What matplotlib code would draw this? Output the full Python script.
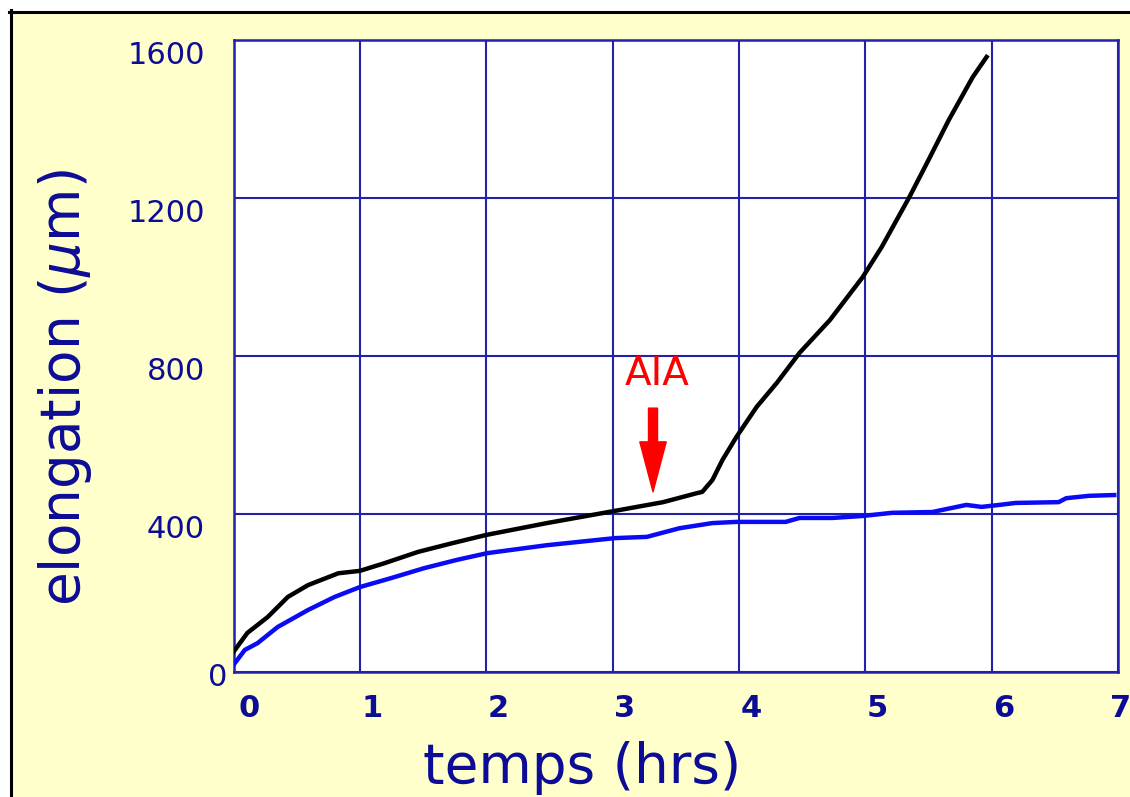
import matplotlib
matplotlib.use("Agg")
import matplotlib.pyplot as plt
import matplotlib.transforms as mtransforms
from matplotlib.patches import Rectangle
from matplotlib.lines import Line2D

# ---- data ----
black_t = [0, 0.11, 0.27, 0.43, 0.59, 0.83, 1.0, 1.2, 1.46, 1.73, 2.0, 2.48, 3.02,
           3.4, 3.67, 3.71, 3.79, 3.87, 3.98, 4.14, 4.3, 4.48, 4.72, 4.98, 5.13,
           5.35, 5.5, 5.66, 5.85, 5.96]
black_y = [51, 99, 139, 190, 220, 250, 256, 276, 304, 326, 347, 377, 408,
           430, 453, 456, 486, 537, 595, 671, 732, 808, 891, 1000, 1076,
           1203, 1296, 1397, 1506, 1557]

blue_t = [0, 0.09, 0.19, 0.35, 0.59, 0.8, 1.0, 1.25, 1.51, 1.77, 2.01, 2.48, 3.02,
          3.27, 3.53, 3.79, 3.98, 4.37, 4.48, 4.74, 4.98, 5.21, 5.53, 5.8, 5.92,
          6.06, 6.19, 6.53, 6.59, 6.77, 6.97]
blue_y = [18, 56, 73, 114, 157, 190, 215, 238, 263, 284, 301, 321, 339,
          342, 364, 377, 380, 380, 390, 390, 395, 403, 405, 423, 418,
          423, 428, 430, 440, 446, 448]

x_ticks = [0, 1, 2, 3, 4, 5, 6, 7]
x_ticklabels = ["0", "1", "2", "3", "4", "5", "6", "7"]
y_ticks = [0, 400, 800, 1200, 1600]
y_ticklabels = ["0", "400", "800", "1200", "1600"]

arrow_x = 3.32
arrow_top, arrow_tip = 668, 456
aia_label = "AIA"
aia_pos = (3.35, 727)

xlabel = "temps (hrs)"
ylabel = r"elongation ($\mu$m)"

# ---- style ----
NAVY = "#0c0c96"
GRID = "#2222a8"
YELLOW = "#ffffcc"

W, H = 1130, 797
fig = plt.figure(figsize=(W / 100, H / 100), dpi=100, facecolor="white")

# yellow panel and black frame lines
fig.patches.append(Rectangle((11 / W, 0), 1, (H - 12) / H, transform=fig.transFigure,
                             facecolor=YELLOW, edgecolor="none", zorder=-10))
fig.lines.append(Line2D([9 / W, 1], [1 - 11.5 / H, 1 - 11.5 / H], transform=fig.transFigure,
                        color="black", lw=2.2))
fig.lines.append(Line2D([10.5 / W, 10.5 / W], [0, 1 - 10 / H], transform=fig.transFigure,
                        color="black", lw=2.2))

left, right, top, bottom = 233.5, 1118, 40, 672
ax = fig.add_axes([left / W, 1 - bottom / H, (right - left) / W, (bottom - top) / H])
ax.set_facecolor("white")

ax.plot(blue_t, blue_y, color="#0a0af5", lw=3.2, zorder=3)
ax.plot(black_t, black_y, color="black", lw=3.2, zorder=4)

ax.set_xlim(0, 7)
ax.set_ylim(0, 1600)
ax.grid(True, color=GRID, lw=1.5)
ax.set_axisbelow(True)
for s in ax.spines.values():
    s.set_color(GRID)
    s.set_linewidth(1.8)

ax.set_xticks(x_ticks)
ax.set_xticklabels(x_ticklabels, fontsize=22, fontweight="bold", color=NAVY)
ax.set_yticks(y_ticks)
ax.set_yticklabels(y_ticklabels, fontsize=22, color=NAVY)
ax.tick_params(axis="both", length=0)
ax.tick_params(axis="x", pad=16)
ax.tick_params(axis="y", pad=20.5)

n_x = len(x_ticks)
for i, lbl in enumerate(ax.get_xticklabels()):
    if i == 0:
        dx = 16
    elif i == n_x - 1:
        dx = 3
    else:
        dx = 12
    lbl.set_transform(lbl.get_transform() + mtransforms.ScaledTranslation(dx / 100, 0, fig.dpi_scale_trans))
for i, lbl in enumerate(ax.get_yticklabels()):
    if i == 0:
        off = mtransforms.ScaledTranslation(22 / 100, -2 / 100, fig.dpi_scale_trans)
    else:
        off = mtransforms.ScaledTranslation(0, -12 / 100, fig.dpi_scale_trans)
    lbl.set_transform(lbl.get_transform() + off)

ax.set_xlabel(xlabel, fontsize=39.5, color=NAVY)
ax.xaxis.set_label_coords((582 - left) / (right - left), -(741 - bottom) / (bottom - top))
ax.set_ylabel(ylabel, fontsize=39.5, color=NAVY)
ax.yaxis.set_label_coords((94 - left) / (right - left), (bottom - 388) / (bottom - top))

ax.annotate("", xy=(arrow_x, arrow_tip), xytext=(arrow_x, arrow_top),
            arrowprops=dict(facecolor="#ff0000", edgecolor="#ff0000", width=6.5,
                            headwidth=19, headlength=36, shrink=0), zorder=5)
ax.text(aia_pos[0], aia_pos[1], aia_label, color="#ff0000", fontsize=28,
        ha="center", va="baseline", zorder=5)

fig.savefig("out.png", dpi=100, facecolor="white")
